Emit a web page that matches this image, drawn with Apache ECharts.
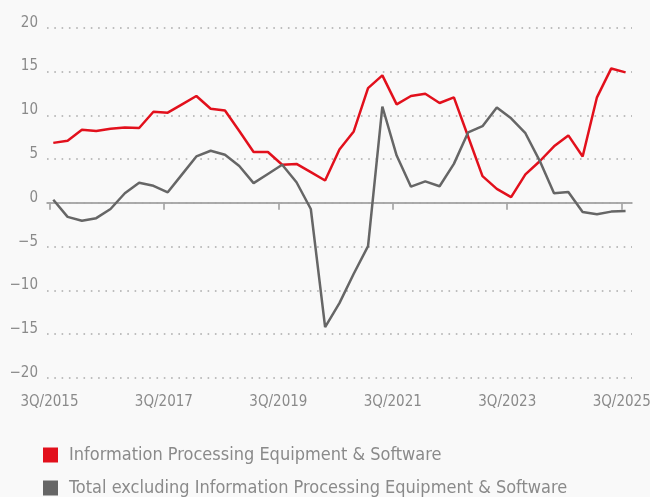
<!DOCTYPE html>
<html>
<head>
<meta charset="utf-8">
<script src="https://cdn.jsdelivr.net/npm/echarts@6/dist/echarts.min.js"></script>
<style>
html,body{margin:0;padding:0;background:#f9f9f9;}
#chart{width:650px;height:497px;}
</style>
</head>
<body>
<div id="chart"></div>
<script>
// Quarterly data, 3Q/2015 .. 3Q/2025 (41 quarters)
const quarters = [
  '3Q/2015','4Q/2015','1Q/2016','2Q/2016','3Q/2016','4Q/2016','1Q/2017','2Q/2017',
  '3Q/2017','4Q/2017','1Q/2018','2Q/2018','3Q/2018','4Q/2018','1Q/2019','2Q/2019',
  '3Q/2019','4Q/2019','1Q/2020','2Q/2020','3Q/2020','4Q/2020','1Q/2021','2Q/2021',
  '3Q/2021','4Q/2021','1Q/2022','2Q/2022','3Q/2022','4Q/2022','1Q/2023','2Q/2023',
  '3Q/2023','4Q/2023','1Q/2024','2Q/2024','3Q/2024','4Q/2024','1Q/2025','2Q/2025',
  '3Q/2025'
];
const ipSoftware = [
  6.85, 7.1, 8.35, 8.2, 8.45, 8.6, 8.55, 10.4, 10.3, 11.25, 12.2, 10.75, 10.55, 8.2,
  5.8, 5.8, 4.35, 4.45, 3.5, 2.55, 6.1, 8.15, 13.1, 14.55, 11.25, 12.2, 12.45, 11.4,
  12.05, 7.55, 3.05, 1.6, 0.65, 3.25, 4.75, 6.45, 7.7, 5.3, 12.05, 15.35, 14.9
];
const totalExcl = [
  0.35, -1.6, -2.05, -1.75, -0.7, 1.1, 2.3, 1.95, 1.2, 3.25, 5.3, 5.95, 5.5, 4.2,
  2.25, 3.3, 4.35, 2.35, -0.7, -14.2, -11.45, -8.1, -4.95, 11.0, 5.4, 1.85, 2.45, 1.9,
  4.45, 8.05, 8.75, 10.9, 9.65, 7.95, 4.8, 1.1, 1.25, -1.05, -1.3, -1.0, -0.92
];
const tickLabels = ['3Q/2015','3Q/2017','3Q/2019','3Q/2021','3Q/2023','3Q/2025'];
const seriesNames = [
  'Information Processing Equipment & Software',
  'Total excluding Information Processing Equipment & Software'
];

const FONT = '"Liberation Sans Narrow", "DejaVu Sans Condensed", "Roboto", sans-serif';
const TEXT = '#8a8a8a';
const RED = '#e2101c';
const GRAY = '#666666';

// ticks fall slightly before the data points of their quarter
const TICK_SHIFT = -0.27;
const tickPos = tickLabels.map((_, k) => k * 8 + TICK_SHIFT);

const chart = echarts.init(document.getElementById('chart'), null, {renderer: 'canvas'});
chart.setOption({
  backgroundColor: '#f9f9f9',
  animation: false,
  textStyle: {fontFamily: FONT},
  grid: {left: 47, right: 18, top: 27.7, bottom: 119, outerBoundsMode: 'none', containLabel: false},
  legend: {
    orient: 'vertical',
    left: 43, top: 446, height: 80,
    padding: 0,
    itemWidth: 15, itemHeight: 15, itemGap: 15,
    icon: 'rect',
    textStyle: {fontFamily: FONT, fontSize: 18, color: TEXT, padding: [0, 0, 0, 6]},
    data: seriesNames
  },
  xAxis: {
    type: 'value',
    min: -0.44, max: 40.45,
    axisLine: {show: true, lineStyle: {color: '#9a9a9a', width: 1.5}},
    axisTick: {show: true, length: 7, customValues: tickPos, lineStyle: {color: '#9a9a9a', width: 1.5}},
    axisLabel: {
      customValues: tickPos,
      margin: 17,
      fontFamily: FONT, fontSize: 15, color: TEXT,
      formatter: v => tickLabels[Math.round((v - TICK_SHIFT) / 8)] || ''
    },
    splitLine: {show: false}
  },
  yAxis: {
    type: 'value',
    min: -20, max: 20, interval: 5,
    axisLine: {show: false},
    axisTick: {show: false},
    axisLabel: {
      margin: 9,
      fontFamily: FONT, fontSize: 15, color: TEXT,
      verticalAlign: 'bottom',
      lineHeight: 10,
      formatter: v => String(v).replace('-', '\u2212')
    },
    splitLine: {
      show: true,
      lineStyle: {color: '#ababab', width: 1.6, type: [1.6, 5.7]}
    }
  },
  series: [
    {
      name: seriesNames[0],
      type: 'line',
      data: ipSoftware.map((v, i) => [i, v]),
      symbol: 'none',
      lineStyle: {color: RED, width: 2.5},
      itemStyle: {color: RED},
      z: 3,
      markLine: {
        silent: true,
        symbol: 'none',
        label: {show: false},
        lineStyle: {color: '#a8a8a8', type: 'solid', width: 1.5},
        data: [{yAxis: 0}],
        z: 1
      }
    },
    {
      name: seriesNames[1],
      type: 'line',
      data: totalExcl.map((v, i) => [i, v]),
      symbol: 'none',
      lineStyle: {color: GRAY, width: 2.5},
      itemStyle: {color: GRAY},
      z: 4
    }
  ]
});
</script>
</body>
</html>
